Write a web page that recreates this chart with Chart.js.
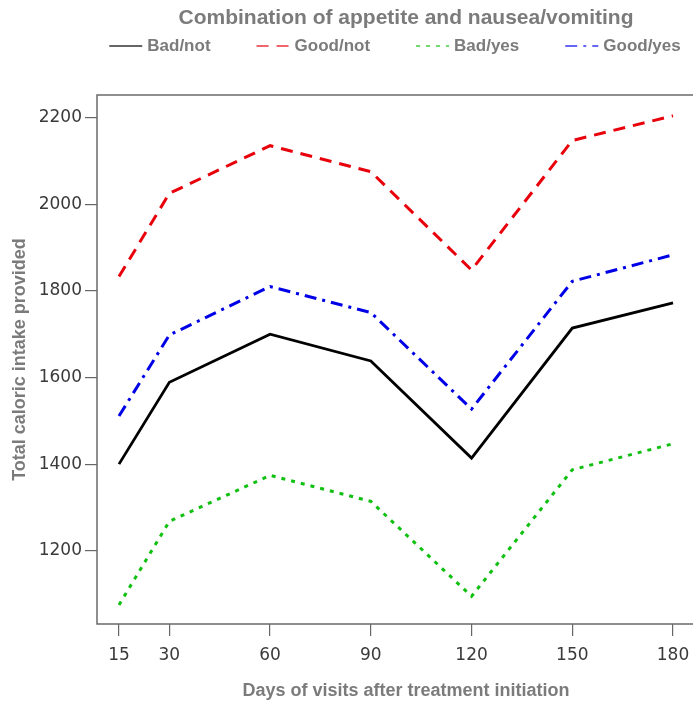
<!DOCTYPE html>
<html>
<head>
<meta charset="utf-8">
<script src="https://cdn.jsdelivr.net/npm/chart.js@4"></script>
<style>
  html, body { margin: 0; padding: 0; background: #fff; overflow: hidden; }
  #wrap { width: 693px; height: 707px; overflow: hidden; position: relative; }
  #lineCanvas { position: absolute; left: 0; top: 0; }
</style>
</head>
<body>
<div id="wrap"><canvas id="lineCanvas" width="740" height="707"></canvas></div>
<script>
// days of visit (x) and mean caloric intake per group
const days = [15, 30, 60, 90, 120, 150, 180];
const badNot = [1400, 1589, 1700, 1638, 1414, 1714, 1772];
const goodNot = [1833, 2025, 2135, 2075, 1848, 2147, 2204];
const badYes = [1075, 1268, 1374, 1314, 1095, 1387, 1447];
const goodYes = [1511, 1698, 1810, 1750, 1527, 1822, 1883];
const yTicks = [1200, 1400, 1600, 1800, 2000, 2200];
const xTicks = days;

const grey = "#7b7b7b";
const boldFont = "'Liberation Sans', Arial, sans-serif";
const tickFont = "'DejaVu Sans', sans-serif";

function pts(values) {
    return days.map((d, i) => ({ x: d, y: values[i] }));
}

// box around the plot region (right side falls outside the picture)
const boxPlugin = {
    id: "plotBox",
    afterDraw(chart) {
        const a = chart.chartArea;
        const ctx = chart.ctx;
        ctx.save();
        ctx.strokeStyle = "#6a6a6a";
        ctx.lineWidth = 1.5;
        ctx.setLineDash([]);
        ctx.beginPath();
        ctx.moveTo(a.right, a.top);
        ctx.lineTo(a.left, a.top);
        ctx.lineTo(a.left, a.bottom);
        ctx.lineTo(a.right, a.bottom);
        ctx.stroke();
        ctx.restore();
    }
};

// legend row drawn by hand so the gaps match
const legendRow = {
    id: "legendRow",
    afterDraw(chart) {
        const ctx = chart.ctx;
        const sets = chart.data.datasets;
        const lineLen = 33, gap = 5, itemGap = 46, y = 46;
        ctx.save();
        ctx.font = "bold 17px " + boldFont;
        ctx.textBaseline = "middle";
        let total = 0;
        sets.forEach((s, i) => {
            total += lineLen + gap + ctx.measureText(s.label).width;
            if (i < sets.length - 1) total += itemGap;
        });
        let x = 395 - total / 2;
        sets.forEach(s => {
            ctx.strokeStyle = s.borderColor;
            ctx.globalAlpha = 0.6;
            ctx.lineWidth = 2;
            ctx.setLineDash(s.borderDash || []);
            ctx.beginPath();
            ctx.moveTo(x, y);
            ctx.lineTo(x + lineLen, y);
            ctx.stroke();
            ctx.globalAlpha = 1;
            ctx.fillStyle = grey;
            ctx.fillText(s.label, x + lineLen + gap, y);
            x += lineLen + gap + ctx.measureText(s.label).width + itemGap;
        });
        ctx.restore();
    }
};

new Chart(document.getElementById("lineCanvas"), {
    type: "line",
    data: {
        datasets: [
            { label: "Bad/not", data: pts(badNot), borderColor: "#000000", borderWidth: 2.8, borderDash: [] },
            { label: "Good/not", data: pts(goodNot), borderColor: "#e8000b", borderWidth: 3, borderDash: [12, 8] },
            { label: "Bad/yes", data: pts(badYes), borderColor: "#10c010", borderWidth: 3, borderDash: [4, 6] },
            { label: "Good/yes", data: pts(goodYes), borderColor: "#0000e6", borderWidth: 3, borderDash: [12, 6, 3, 6] }
        ]
    },
    options: {
        responsive: false,
        animation: false,
        layout: { padding: { right: 25 } },
        elements: { point: { radius: 0 }, line: { tension: 0 } },
        plugins: {
            legend: { display: false },
            tooltip: { enabled: false },
            title: {
                display: true,
                fullSize: false,
                text: "Combination of appetite and nausea/vomiting",
                color: grey,
                font: { family: boldFont, size: 21, weight: "bold" },
                padding: { top: 6, bottom: 63.8 }
            }
        },
        scales: {
            x: {
                type: "linear",
                min: 8.45,
                max: 192.5,
                afterFit(scale) { scale.height = 83; },
                afterBuildTicks(scale) { scale.ticks = xTicks.map(v => ({ value: v })); },
                border: { display: false },
                grid: { drawOnChartArea: false, drawTicks: true, tickLength: 12, color: "#666", lineWidth: 1.2 },
                ticks: { color: "#3a3a3a", padding: 9, maxRotation: 0, font: { family: tickFont, size: 17 },
                         callback: v => String(v) },
                title: {
                    display: true,
                    text: "Days of visits after treatment initiation",
                    color: grey,
                    font: { family: boldFont, size: 18, weight: "bold" },
                    padding: { top: 0, bottom: 5 }
                }
            },
            y: {
                min: 1031,
                max: 2252,
                afterFit(scale) { scale.width = 97; },
                afterBuildTicks(scale) { scale.ticks = yTicks.map(v => ({ value: v })); },
                border: { display: false },
                grid: { drawOnChartArea: false, drawTicks: true, tickLength: 12, color: "#666", lineWidth: 1.2 },
                ticks: { color: "#3a3a3a", padding: 3, font: { family: tickFont, size: 17 },
                         callback: v => String(v) },
                title: {
                    display: true,
                    text: "Total caloric intake provided",
                    color: grey,
                    font: { family: boldFont, size: 18, weight: "bold" },
                    padding: { top: 9, bottom: 0 }
                }
            }
        }
    },
    plugins: [boxPlugin, legendRow]
});
</script>
</body>
</html>
